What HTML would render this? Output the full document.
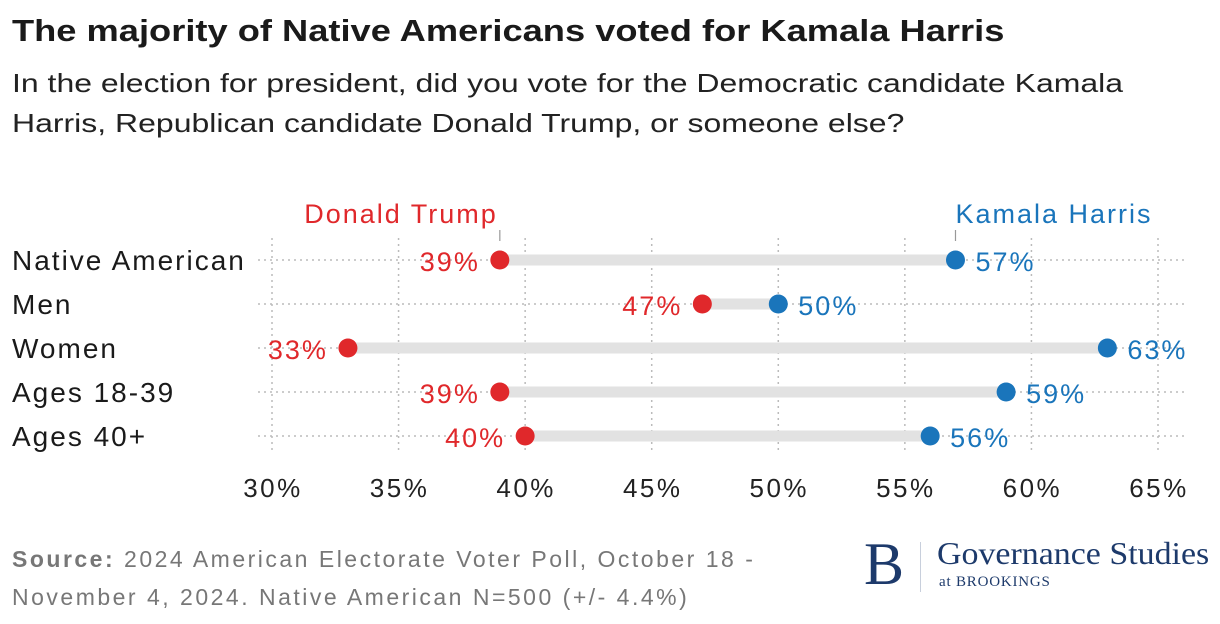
<!DOCTYPE html>
<html><head><meta charset="utf-8"><style>
body{margin:0;width:1220px;height:624px;background:#fff;font-family:"Liberation Sans",sans-serif;overflow:hidden;position:relative}
.sx{display:inline-block;transform-origin:0 0;white-space:nowrap}
.t{position:absolute;left:12px;top:13px;font-size:31px;font-weight:bold;color:#1a1a1a}
.s{position:absolute;left:12px;top:63px;font-size:26px;color:#222;line-height:40px}
.src{position:absolute;left:12px;top:540px;font-size:23px;color:#777;line-height:38px;letter-spacing:2.5px}
svg{position:absolute;left:0;top:0}
svg text{letter-spacing:2px}
</style></head><body>
<div class="t"><span class="sx" style="transform:scaleX(1.17)">The majority of Native Americans voted for Kamala Harris</span></div>
<div class="s"><span class="sx" style="transform:scaleX(1.23)">In the election for president, did you vote for the Democratic candidate Kamala<br>Harris, Republican candidate Donald Trump, or someone else?</span></div>
<div class="src"><b>Source:</b> 2024 American Electorate Voter Poll, October 18 -<br>November 4, 2024. Native American N=500 (+/- 4.4%)</div>
<div style="position:absolute;left:864px;top:536px;font-family:'Liberation Serif',serif;color:#1d3a6b">
<div style="position:absolute;left:0;top:-2px;font-size:60px;line-height:60px">B</div>
<div style="position:absolute;left:56px;top:6px;width:1px;height:50px;background:#c8cfdc"></div>
<div style="position:absolute;left:73px;top:0px;font-size:32px;white-space:nowrap;line-height:34px"><span class="sx" style="transform:scaleX(1.06)">Governance Studies</span></div>
<div style="position:absolute;left:75px;top:38px;font-size:15px;white-space:nowrap;letter-spacing:0.8px">at BROOKINGS</div>
</div>
<svg id="c" width="1220" height="624"></svg>
<script>
const categories=["Native American","Men","Women","Ages 18-39","Ages 40+"];
const trump=[39,47,33,39,40];
const harris=[57,50,63,59,56];
const ticks=[30,35,40,45,50,55,60,65];
const svg=document.getElementById('c');
const NS='http://www.w3.org/2000/svg';
const x=v=>272+(v-30)*(1158-272)/35;
const y=i=>260+i*44;
function mk(t,a,txt){const e=document.createElementNS(NS,t);for(const k in a)e.setAttribute(k,a[k]);if(txt!=null)e.textContent=txt;svg.appendChild(e);return e;}
ticks.forEach(t=>{
 const g=mk('line',{x1:x(t),x2:x(t),y1:238,y2:452,stroke:'#bbb','stroke-width':1.5,'stroke-dasharray':'2,4'});
 
 
 const l=mk('text',{x:x(t)+1,y:497,'text-anchor':'middle','font-size':26,fill:'#222',style:'letter-spacing:2.5px'},t+'%');
 
 
});
categories.forEach((c,i)=>{
 const h=mk('line',{x1:258,x2:1186,y1:y(i),y2:y(i),stroke:'#bbb','stroke-width':1.5,'stroke-dasharray':'2,4'});
 
 
 const lab=mk('text',{x:12,y:y(i)+10,'font-size':28,fill:'#1a1a1a'},c);
 
 
 const b=mk('line',{x1:x(trump[i]),x2:x(harris[i]),y1:y(i),y2:y(i),stroke:'#e2e2e2','stroke-width':11});
 
 
 const d1=mk('circle',{cx:x(trump[i]),cy:y(i),r:9.5,fill:'#e0282b'});
 
 
 const d2=mk('circle',{cx:x(harris[i]),cy:y(i),r:9.5,fill:'#1a75bb'});
 
 
 const v1=mk('text',{x:x(trump[i])-20,y:y(i)+11,'text-anchor':'end','font-size':27,fill:'#e0282b'},trump[i]+'%');
 
 
 const v2=mk('text',{x:x(harris[i])+20,y:y(i)+11,'font-size':27,fill:'#1a75bb'},harris[i]+'%');
 
 
});
const lt=mk('text',{x:x(trump[0])-2,y:223,'text-anchor':'end','font-size':27,fill:'#e0282b'},'Donald Trump');


const lh=mk('text',{x:x(harris[0]),y:223,'font-size':27,fill:'#1a75bb'},'Kamala Harris');


[x(trump[0]),x(harris[0])].forEach(px=>{
 const k=mk('line',{x1:px,x2:px,y1:230,y2:241,stroke:'#999','stroke-width':1.2});
 
 
});
</script>
</body></html>
